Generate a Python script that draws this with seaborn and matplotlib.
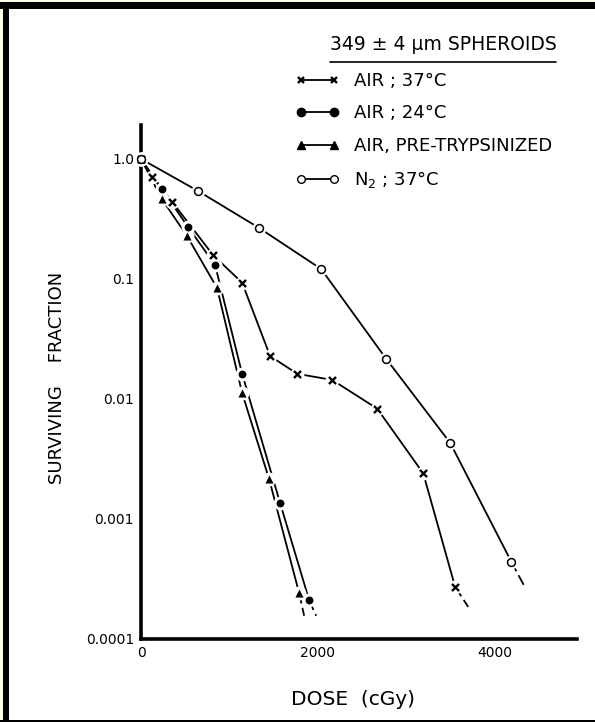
import matplotlib
matplotlib.use('Agg')
import matplotlib.pyplot as plt
from matplotlib.lines import Line2D
from matplotlib.patches import Rectangle
from matplotlib.ticker import NullLocator
import pandas as pd
import seaborn as sns

# surviving fraction vs dose for 349 um spheroids

labels = ['AIR ; 37°C', 'AIR ; 24°C', 'AIR, PRE-TRYPSINIZED', 'N$_2$ ; 37°C']

dose_air37 = [0, 124, 351, 814, 1143, 1459, 1765, 2161, 2670, 3190, 3552]
sf_air37 = [1.0, 0.71, 0.44, 0.158, 0.093, 0.0228, 0.0162, 0.0144, 0.0083, 0.0024, 0.00027]

dose_air24 = [0, 238, 532, 837, 1143, 1572, 1900]
sf_air24 = [1.0, 0.56, 0.27, 0.131, 0.0162, 0.00136, 0.000211]

dose_tryp = [0, 238, 520, 860, 1143, 1448, 1787]
sf_tryp = [1.0, 0.46, 0.228, 0.084, 0.0112, 0.00215, 0.000242]

dose_n2 = [0, 645, 1335, 2036, 2771, 3495, 4186]
sf_n2 = [1.0, 0.54, 0.266, 0.121, 0.0216, 0.0043, 0.00044]

# where each hand drawn curve runs out below its last point
tail_dose = [3699, 1980, 1844, 4344]
tail_sf = [0.000185, 0.000156, 0.000156, 0.000266]

y_ticks = [1.0, 0.1, 0.01, 0.001, 0.0001]
y_ticklabels = ['1.0', '0.1', '0.01', '0.001', '0.0001']
x_ticks = [0, 1000, 2000, 3000, 4000]
x_ticklabels = ['0', '', '2000', '', '4000']

doses = [dose_air37, dose_air24, dose_tryp, dose_n2]
sfs = [sf_air37, sf_air24, sf_tryp, sf_n2]

# marker look per series
marker_kw = [
    dict(marker='x', s=26, color='black', linewidth=1.7),
    dict(marker='o', s=32, color='black', linewidth=0),
    dict(marker='^', s=34, color='black', linewidth=0),
    dict(marker='o', s=32, facecolor='white', edgecolor='black', linewidth=1.1),
]

rows = []
for name, d, s in zip(labels, doses, sfs):
    for a, b in zip(d, s):
        rows.append((name, a, b))
df = pd.DataFrame(rows, columns=['series', 'dose', 'sf'])

sns.set_theme(style='white')
plt.rcParams['font.family'] = ['DejaVu Sans']
plt.rcParams['text.color'] = 'black'
plt.rcParams['axes.labelcolor'] = 'black'
plt.rcParams['xtick.color'] = 'black'
plt.rcParams['ytick.color'] = 'black'

fig = plt.figure(figsize=(5.95, 7.22), dpi=100)
fig.patch.set_facecolor('white')
ax = fig.add_axes([0.237, 0.115, 0.733, 0.712])
ax.set_facecolor('white')

sns.lineplot(data=df, x='dose', y='sf', hue='series', palette=['black'] * 4,
             sort=False, estimator=None, legend=False, linewidth=1.3, ax=ax)

# tails of the curves, drawn broken
for i in range(4):
    ax.plot([doses[i][-1], tail_dose[i]], [sfs[i][-1], tail_sf[i]],
            color='black', lw=1.3, ls=(0, (6, 2.5)))

# white halo behind each marker so the line looks broken like the drawing
for i in range(4):
    sns.scatterplot(x=doses[i], y=sfs[i], marker='o', s=100, color='white',
                    linewidth=0, zorder=3, ax=ax, clip_on=False)
for i in range(4):
    sns.scatterplot(x=doses[i], y=sfs[i], zorder=4, ax=ax, clip_on=False, **marker_kw[i])

ax.set_yscale('log')
ax.set_xlim(0, 4930)
ax.set_ylim(0.0001, 1.92)
ax.set_yticks(y_ticks)
ax.set_yticklabels(y_ticklabels)
ax.yaxis.set_minor_locator(NullLocator())
ax.set_xticks(x_ticks)
ax.set_xticklabels(x_ticklabels)
ax.tick_params(direction='in', length=5, width=1.5, colors='black', labelsize=10, pad=5)

for side in ['top', 'right']:
    ax.spines[side].set_visible(False)
for side in ['left', 'bottom']:
    ax.spines[side].set_linewidth(2.6)
    ax.spines[side].set_color('black')

ax.set_xlabel('DOSE  (cGy)', fontsize=14.5)
ax.xaxis.set_label_coords(0.486, -0.099)
ax.set_ylabel('SURVIVING    FRACTION', fontsize=13)
ax.yaxis.set_label_coords(-0.172, 0.508)

# legend box up top
handles = [
    Line2D([0, 1], [0, 0], color='black', lw=1.3, marker='x', markersize=4.5, markeredgewidth=1.7),
    Line2D([0, 1], [0, 0], color='black', lw=1.3, marker='o', markersize=6),
    Line2D([0, 1], [0, 0], color='black', lw=1.3, marker='^', markersize=6),
    Line2D([0, 1], [0, 0], color='black', lw=1.3, marker='o', markersize=5.5,
           markerfacecolor='white', markeredgecolor='black'),
]
fig.legend(handles, labels, loc='upper left', bbox_to_anchor=(296 / 595, 1 - 72 / 722),
           frameon=False, fontsize=13, numpoints=2, handlelength=2.4,
           handletextpad=0.8, labelspacing=0.8, borderaxespad=0, borderpad=0)

fig.text(443 / 595, 1 - 45 / 722, '349 ± 4 µm SPHEROIDS', ha='center', va='center', fontsize=13.5)
fig.add_artist(Line2D([330 / 595, 556 / 595], [1 - 62 / 722] * 2, color='black', lw=1.2))

# scanned page edges
fig.patches.append(Rectangle((0, 1 - 2 / 722), 1, 2 / 722, transform=fig.transFigure,
                             facecolor='#fffde6', edgecolor='none'))
fig.patches.append(Rectangle((0, 0), 3 / 595, 1, transform=fig.transFigure,
                             facecolor='#fffde6', edgecolor='none'))
fig.patches.append(Rectangle((0, 1 - 9 / 722), 1, 7 / 722, transform=fig.transFigure,
                             facecolor='black', edgecolor='none'))
fig.patches.append(Rectangle((3 / 595, 0), 6 / 595, 1 - 2 / 722, transform=fig.transFigure,
                             facecolor='black', edgecolor='none'))
fig.patches.append(Rectangle((0, 0), 1, 2 / 722, transform=fig.transFigure,
                             facecolor='black', edgecolor='none'))

fig.savefig('out.png', dpi=100)
